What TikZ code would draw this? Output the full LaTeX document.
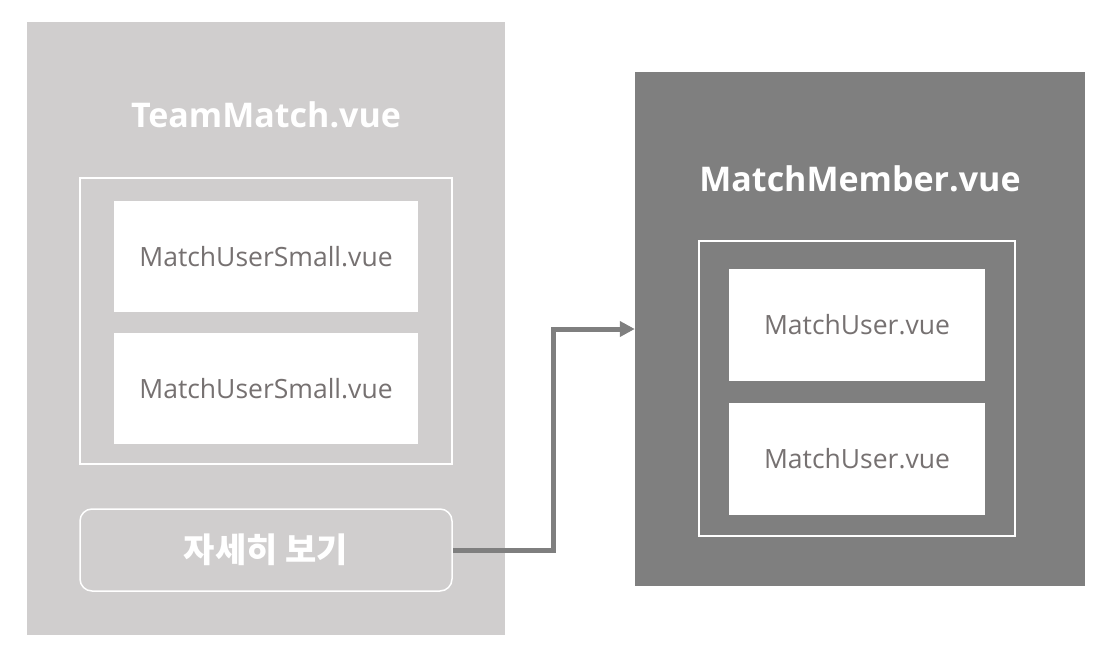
\documentclass[tikz,border=0pt]{standalone}
\usepackage{fontspec}
\setmainfont{Open Sans}
\newfontfamily\krfont{Noto Sans CJK KR}
\usetikzlibrary{positioning,arrows.meta}
\definecolor{lightpanel}{HTML}{D0CECE}
\definecolor{darkpanel}{HTML}{7F7F7F}
\definecolor{boxtext}{HTML}{767171}
\begin{document}
\begin{tikzpicture}
[x=1pt, y=-1pt,
    >={Triangle[length=15pt,width=15pt]},
    panel/.style={rectangle, draw=none, inner sep=0pt},
    frame/.style={rectangle, draw=white, line width=1.5pt, inner sep=0pt},
    compbox/.style={rectangle, fill=white, inner sep=0pt,
        minimum height=111pt, text=boxtext, font=\fontsize{26.5}{31}\selectfont},
    title/.style={text=white, font=\bfseries\fontsize{34}{40}\selectfont},
    link/.style={draw=darkpanel, line width=5pt, ->},
    ]
    \useasboundingbox (0,0) rectangle (1105,650);

    % left panel
    \node[panel, fill=lightpanel,
          minimum width=478pt,
          minimum height=613pt] (lpanel) at (266,328.5) {};
    \node[title] (ltitle) at (266,115) {TeamMatch.vue};
    \node[frame,
          minimum width=372pt,
          minimum height=286pt] (lframe) at (266,321) {};
    \node[compbox, minimum width=304pt] (small1) at (266,256.5) {MatchUserSmall.vue};
    \node[compbox, minimum width=304pt] (small2) at (266,388.5) {MatchUserSmall.vue};
    \node[frame, rounded corners=12pt,
          minimum width=372pt,
          minimum height=82pt, text=white,
          font=\krfont\bfseries\fontsize{34}{40}\selectfont] (more) at (266,550) {자세히 보기};

    % right panel
    \node[panel, fill=darkpanel,
          minimum width=450pt,
          minimum height=514pt] (rpanel) at (860,329) {};
    \node[title] (rtitle) at (860,179) {MatchMember.vue};
    \node[frame,
          minimum width=316pt,
          minimum height=295pt] (rframe) at (857,388.5) {};
    \node[compbox, minimum width=256pt, minimum height=112pt] (user1) at (857,325) {MatchUser.vue};
    \node[compbox, minimum width=256pt, minimum height=112pt] (user2) at (857,459) {MatchUser.vue};

    % link
    \draw[link] (more.east) -- ++(101,0) |- (rpanel.west);

\end{tikzpicture}
\end{document}
